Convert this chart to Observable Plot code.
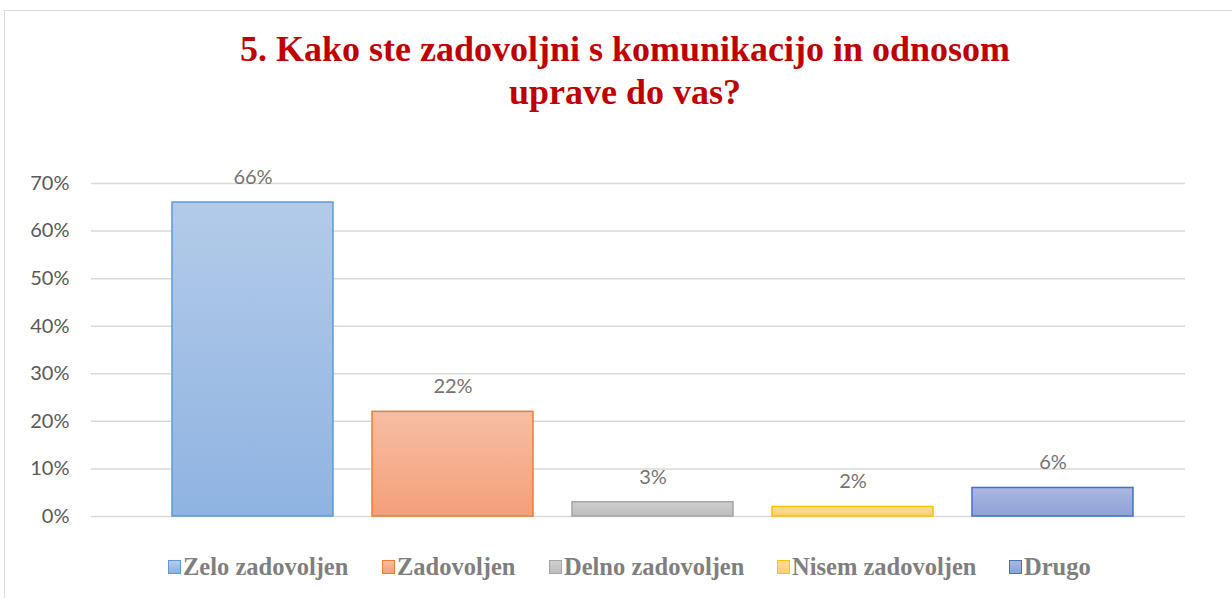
<!DOCTYPE html>
<html><head><meta charset="utf-8">
<script src="https://cdn.jsdelivr.net/npm/d3@7"></script>
<script src="https://cdn.jsdelivr.net/npm/@observablehq/plot@0.6"></script>
<style>
html,body{margin:0;padding:0;background:#fff;width:1232px;height:598px;overflow:hidden}
#wrap{position:relative;width:1232px;height:598px}
#frame{position:absolute;left:4px;top:10px;width:1240px;height:600px;border:1.5px solid #d9d9d9;box-sizing:border-box}
#title{position:absolute;left:0;top:0;width:1250px;height:140px;text-align:center;font-family:"Liberation Serif","Times New Roman",serif;font-weight:bold;color:#c00000;font-size:36px;line-height:43px;padding-top:28px;box-sizing:border-box}
#chart{position:absolute;left:0;top:140px}
#legend{position:absolute;left:0;top:540px;width:1232px;height:58px;font-family:"Liberation Serif","Times New Roman",serif;font-weight:bold;color:#7f7f7f;font-size:24.5px}
.item{position:absolute;top:12px;display:flex;align-items:center;white-space:nowrap;height:30px}
.sw{width:13px;height:14px;margin-right:2px;box-sizing:border-box;border:1.5px solid}
</style></head>
<body><div id="wrap"><div id="frame"></div><div id="title">5. Kako ste zadovoljni s komunikacijo in odnosom<br>uprave do vas?</div><div id="chart"></div><div id="legend"></div></div>
<script>
const categories = ["Zelo zadovoljen","Zadovoljen","Delno zadovoljen","Nisem zadovoljen","Drugo"];
const values = [0.66,0.22,0.03,0.02,0.06];
const yTicks = [0,0.1,0.2,0.3,0.4,0.5,0.6,0.7];
const strokeColors = ["#5b9bd5","#ed7d31","#a5a5a5","#ffc000","#4472c4"];
const gradTop = ["#b3cbe9","#f7bda3","#cecece","#ffdc94","#aab8e1"];
const gradBottom = ["#8fb3e2","#f4a079","#bdbdbd","#ffd16f","#8ea2d8"];
const legendX = [168,382,549,777,1009];

const data = categories.map((c,i)=>({cat:c, v:values[i], label: Math.round(values[i]*100)+"%"}));

const barMarks = data.map((d,i)=>Plot.barY([d],{x:"cat",y:"v",fill:`url(#g${i})`,stroke:strokeColors[i],strokeWidth:1.5}));

const chart = Plot.plot({
  width:1232, height:400,
  marginLeft:91, marginRight:47, marginTop:43, marginBottom:24,
  style:{fontFamily:"Lato, 'Open Sans', sans-serif", fontSize:"20px", color:"#595959", background:"transparent"},
  x:{domain:categories, range:[152,1152], paddingInner:0.195, paddingOuter:0.0975, axis:null},
  y:{domain:[0,0.7], ticks:yTicks, tickFormat:d3.format(".0%"), tickSize:0, tickPadding:22, label:null},
  marks:[
    Plot.ruleY(yTicks,{stroke:"#d9d9d9",strokeWidth:1.5}),
    ...barMarks,
    Plot.text(data,{x:"cat",y:"v",text:"label",dy:-25,fill:"#767171",fontSize:20,lineAnchor:"middle"})
  ]
});
const defs = gradTop.map((t,i)=>`<linearGradient id="g${i}" x1="0" y1="0" x2="0" y2="1"><stop offset="0" stop-color="${t}"/><stop offset="1" stop-color="${gradBottom[i]}"/></linearGradient>`).join("");
chart.insertAdjacentHTML("afterbegin", `<defs>${defs}</defs>`);
document.getElementById("chart").appendChild(chart);

const leg = document.getElementById("legend");
categories.forEach((c,i)=>{
  const it = document.createElement("div");
  it.className="item"; it.style.left=legendX[i]+"px";
  it.innerHTML=`<span class="sw" style="border-color:${strokeColors[i]};background:linear-gradient(${gradTop[i]},${gradBottom[i]})"></span><span>${c}</span>`;
  leg.appendChild(it);
});
</script></body></html>
